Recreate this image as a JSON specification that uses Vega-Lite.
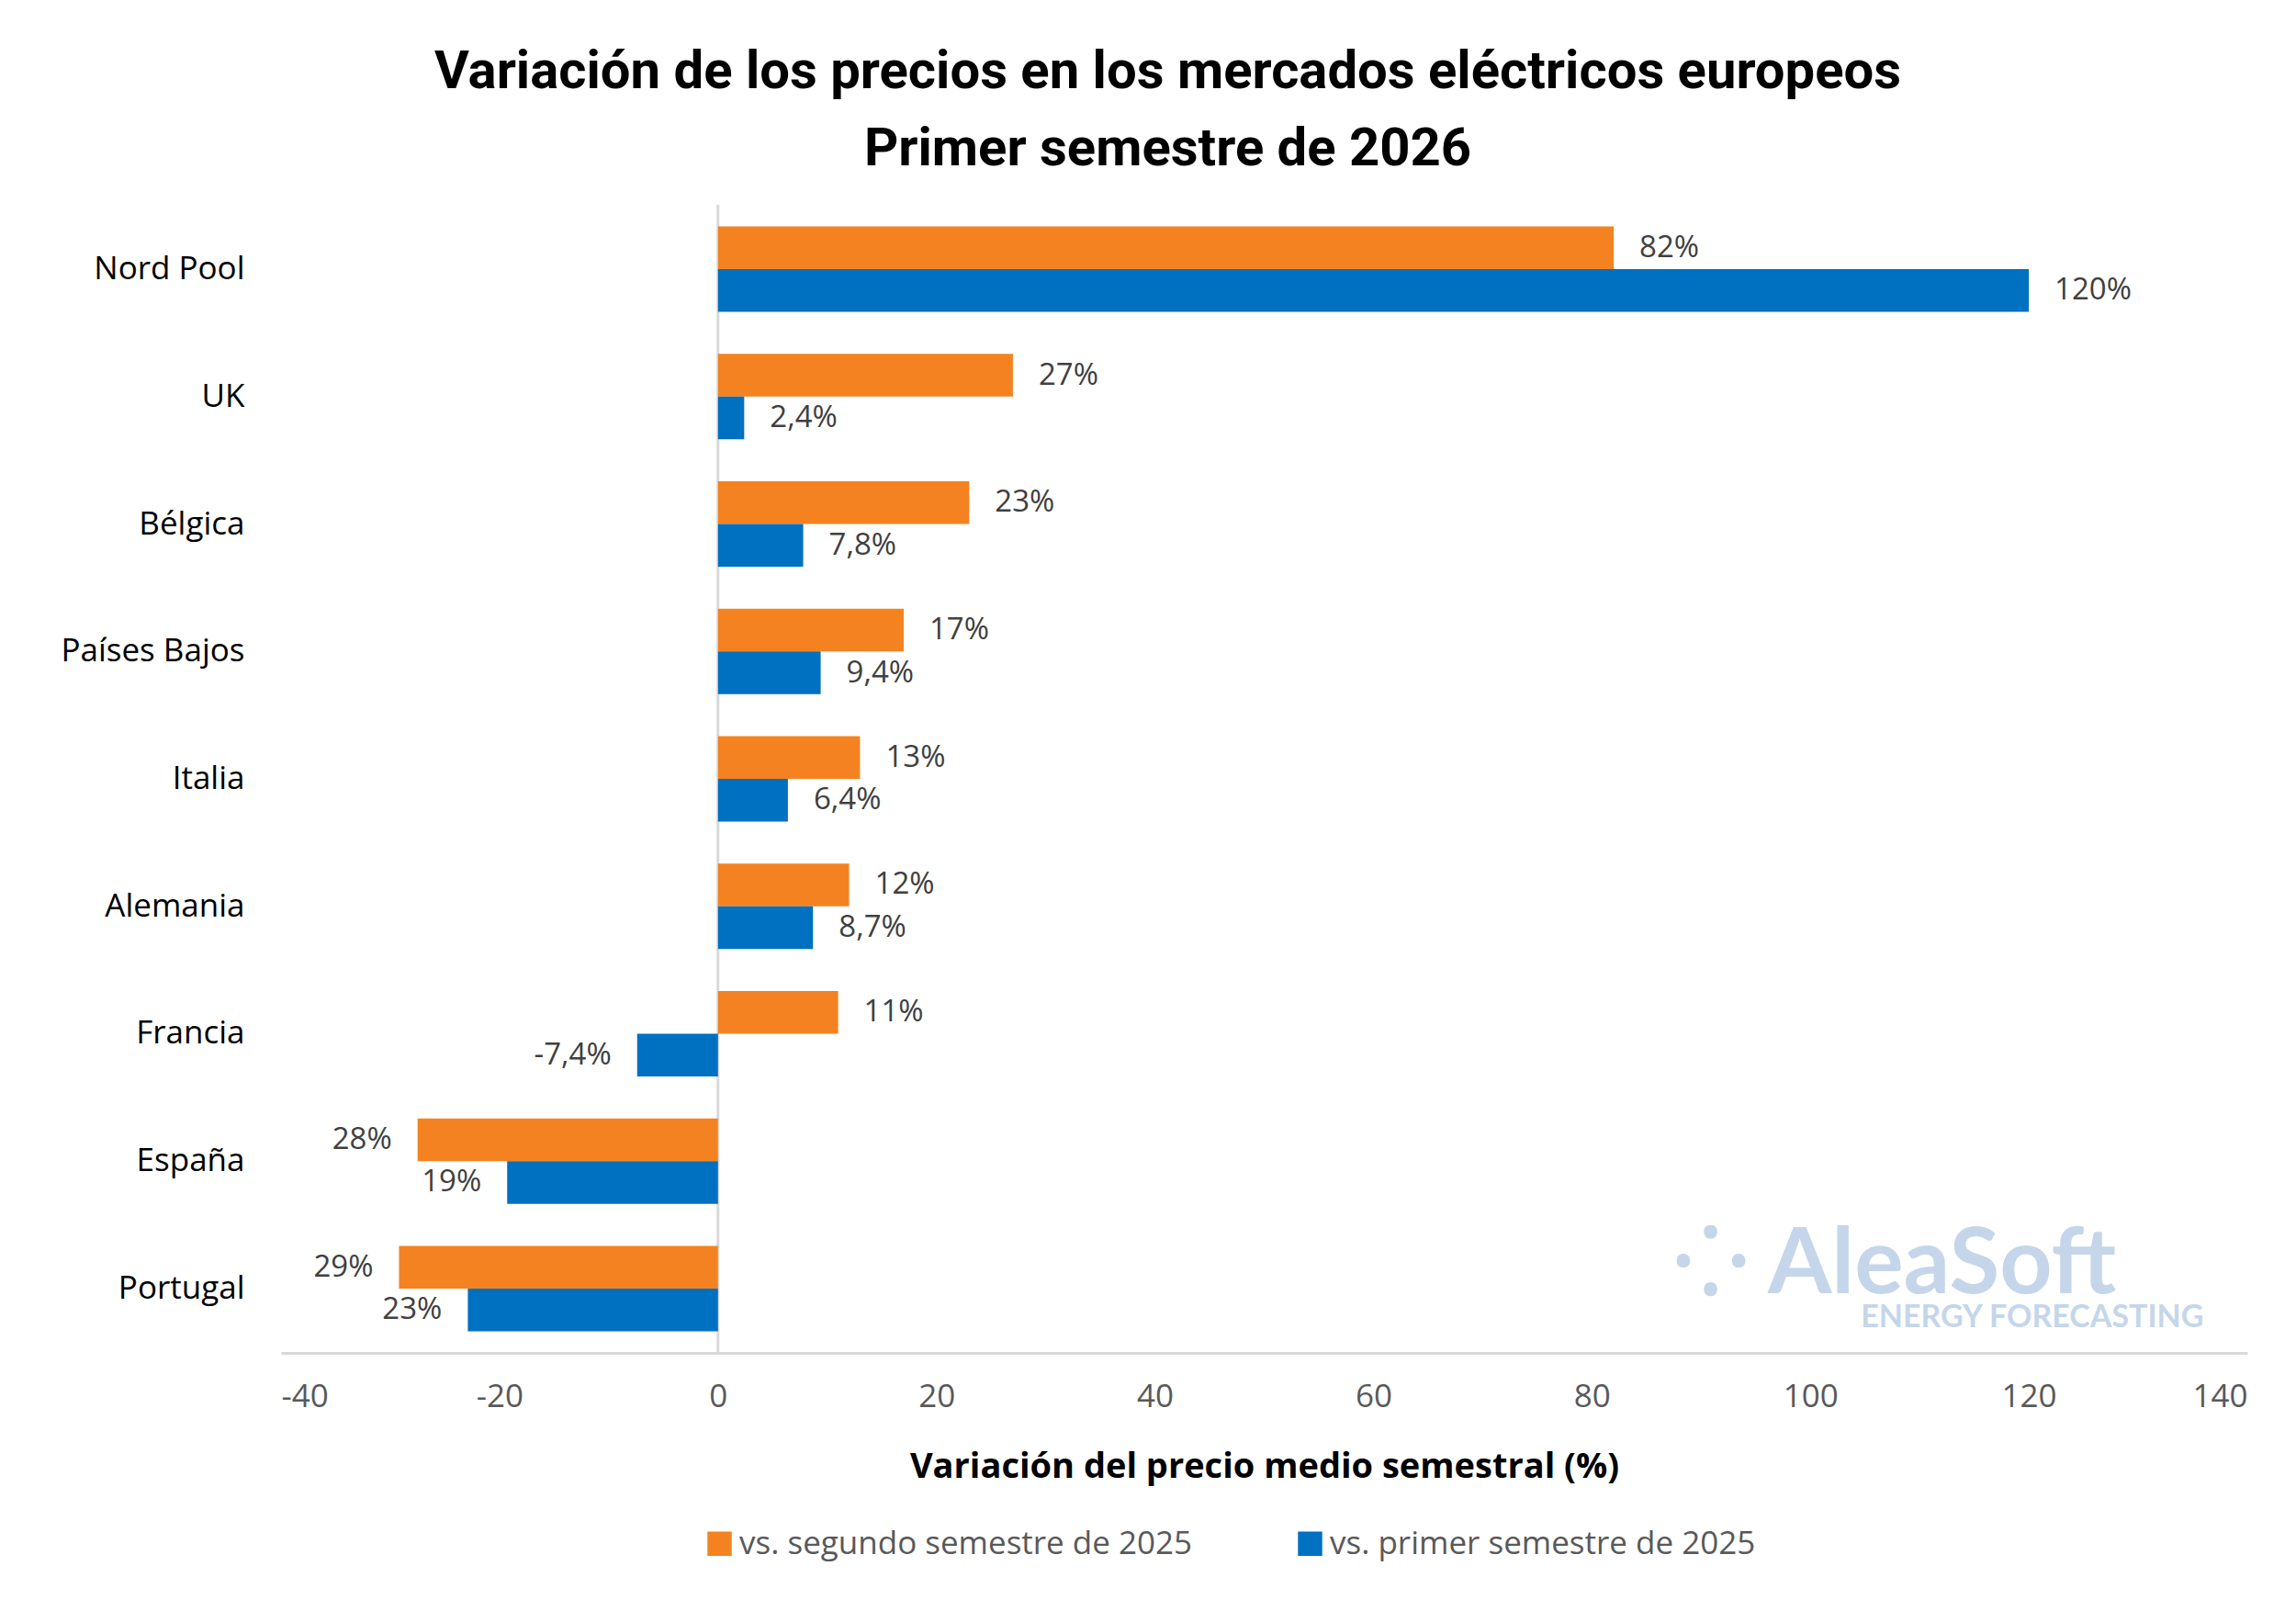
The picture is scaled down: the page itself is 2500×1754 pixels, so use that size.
{
  "$schema": "https://vega.github.io/schema/vega-lite/v6.json",
  "width": 2141,
  "height": 1250,
  "autosize": {"type": "none"},
  "padding": {"left": 306, "top": 223, "right": 53, "bottom": 281},
  "background": "white",
  "config": {"view": {"stroke": null}, "font": "Roboto"},
  "title": {
    "text": ["Variación de los precios en los mercados eléctricos europeos", "Primer semestre de 2026"],
    "fontSize": 58, "fontWeight": "bold", "lineHeight": 84, "color": "#000000",
    "anchor": "middle", "dx": -105, "offset": 30
  },
  "data": {"values": [
    {"pais": "Nord Pool", "serie": "vs. segundo semestre de 2025", "v": 82, "label": "82%"},
    {"pais": "Nord Pool", "serie": "vs. primer semestre de 2025", "v": 120, "label": "120%"},
    {"pais": "UK", "serie": "vs. segundo semestre de 2025", "v": 27, "label": "27%"},
    {"pais": "UK", "serie": "vs. primer semestre de 2025", "v": 2.4, "label": "2,4%"},
    {"pais": "Bélgica", "serie": "vs. segundo semestre de 2025", "v": 23, "label": "23%"},
    {"pais": "Bélgica", "serie": "vs. primer semestre de 2025", "v": 7.8, "label": "7,8%"},
    {"pais": "Países Bajos", "serie": "vs. segundo semestre de 2025", "v": 17, "label": "17%"},
    {"pais": "Países Bajos", "serie": "vs. primer semestre de 2025", "v": 9.4, "label": "9,4%"},
    {"pais": "Italia", "serie": "vs. segundo semestre de 2025", "v": 13, "label": "13%"},
    {"pais": "Italia", "serie": "vs. primer semestre de 2025", "v": 6.4, "label": "6,4%"},
    {"pais": "Alemania", "serie": "vs. segundo semestre de 2025", "v": 12, "label": "12%"},
    {"pais": "Alemania", "serie": "vs. primer semestre de 2025", "v": 8.7, "label": "8,7%"},
    {"pais": "Francia", "serie": "vs. segundo semestre de 2025", "v": 11, "label": "11%"},
    {"pais": "Francia", "serie": "vs. primer semestre de 2025", "v": -7.4, "label": "-7,4%"},
    {"pais": "España", "serie": "vs. segundo semestre de 2025", "v": -27.5, "label": "28%"},
    {"pais": "España", "serie": "vs. primer semestre de 2025", "v": -19.3, "label": "19%"},
    {"pais": "Portugal", "serie": "vs. segundo semestre de 2025", "v": -29.2, "label": "29%"},
    {"pais": "Portugal", "serie": "vs. primer semestre de 2025", "v": -22.9, "label": "23%"}
  ]},
  "encoding": {
    "y": {"field": "pais", "type": "nominal", "sort": null,
      "scale": {"domain": ["Nord Pool", "UK", "Bélgica", "Países Bajos", "Italia", "Alemania", "Francia", "España", "Portugal"], "paddingInner": 0.33, "paddingOuter": 0.17},
      "axis": {"title": null, "domain": false, "ticks": false, "labelFontSize": 35, "labelColor": "#000000", "labelPadding": 40, "labelFont": "Open Sans", "labelLimit": 400}},
    "yOffset": {"field": "serie", "type": "nominal", "sort": ["vs. segundo semestre de 2025", "vs. primer semestre de 2025"]},
    "x": {"field": "v", "type": "quantitative",
      "scale": {"domain": [-40, 140], "nice": false},
      "axis": {"values": [-40, -20, 0, 20, 40, 60, 80, 100, 120, 140], "labelExpr": "replace(datum.label, '−', '-')",
        "title": "Variación del precio medio semestral (%)",
        "titleFontSize": 38, "titleFontWeight": "bold", "titleColor": "#000000", "titlePadding": 40, "titleFont": "Open Sans",
        "labelFontSize": 35, "labelColor": "#595959", "labelPadding": 30, "labelFont": "Open Sans",
        "grid": false, "ticks": false, "domainColor": "#D9D9D9", "domainWidth": 3}}
  },
  "layer": [
    {"transform": [{"filter": "datum.v == 82"}],
      "mark": {"type": "rule", "color": "#D9D9D9", "strokeWidth": 3},
      "encoding": {"x": {"datum": 0}, "y": null, "yOffset": null}},
    {"mark": {"type": "bar"},
      "encoding": {
        "color": {"field": "serie", "type": "nominal",
          "scale": {"domain": ["vs. segundo semestre de 2025", "vs. primer semestre de 2025"], "range": ["#F58220", "#0070C0"]},
          "legend": {"title": null, "orient": "none", "direction": "horizontal", "legendX": 460, "legendY": 1440,
            "symbolType": "square", "symbolSize": 700, "symbolStrokeWidth": 0, "labelFontSize": 35, "labelColor": "#595959",
            "labelFont": "Open Sans", "columnPadding": 110, "labelLimit": 800}}
      }},
    {"transform": [{"filter": "datum.v >= 0"}],
      "mark": {"type": "text", "align": "left", "dx": 28, "fontSize": 33, "color": "#404040", "font": "Open Sans"},
      "encoding": {"text": {"field": "label"}}},
    {"transform": [{"filter": "datum.v < 0"}],
      "mark": {"type": "text", "align": "right", "dx": -28, "fontSize": 33, "color": "#404040", "font": "Open Sans"},
      "encoding": {"text": {"field": "label"}}},
    {"transform": [{"filter": "datum.v == 82"}],
      "mark": {"type": "text", "align": "right", "fontSize": 100, "fontWeight": "bold", "color": "#C5D6EA", "dy": -25, "font": "Lato"},
      "encoding": {"x": {"datum": 128}, "y": {"datum": "Portugal"}, "yOffset": null, "text": {"value": "⁘ AleaSoft"}}},
    {"transform": [{"filter": "datum.v == 82"}],
      "mark": {"type": "text", "align": "right", "fontSize": 34, "fontWeight": "bold", "color": "#C5D6EA", "dy": 32, "font": "Lato"},
      "encoding": {"x": {"datum": 136}, "y": {"datum": "Portugal"}, "yOffset": null, "text": {"value": "ENERGY FORECASTING"}}}
  ]
}
